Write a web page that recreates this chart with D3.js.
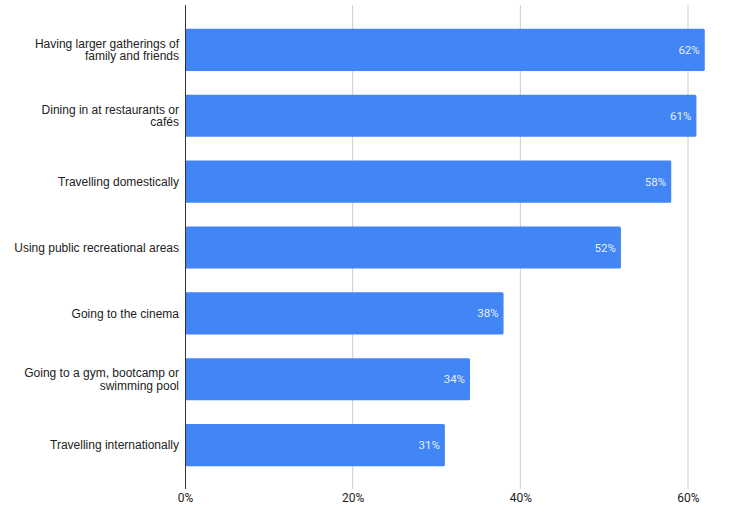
<!DOCTYPE html>
<html>
<head>
<meta charset="utf-8">
<script src="https://cdn.jsdelivr.net/npm/d3@7"></script>
<style>
  body { margin: 0; background: #fff; }
  svg { display: block; }
</style>
</head>
<body>
<div id="chart"></div>
<script>
// activities people look forward to, share of respondents
const categories = [
  ["Having larger gatherings of", "family and friends"],
  ["Dining in at restaurants or", "cafés"],
  ["Travelling domestically"],
  ["Using public recreational areas"],
  ["Going to the cinema"],
  ["Going to a gym, bootcamp or", "swimming pool"],
  ["Travelling internationally"]
]
const values = [62, 61, 58, 52, 38, 34, 31]
const tickValues = [0, 20, 40, 60]

const WIDTH = 729, HEIGHT = 522
const MARGIN = { top: 17, right: 20, bottom: 43, left: 185 }
const innerW = WIDTH - MARGIN.left - MARGIN.right
const innerH = HEIGHT - MARGIN.top - MARGIN.bottom

const data = categories.map((c, i) => ({ key: c.join(" "), lines: c, value: values[i] }))

const svg = d3.select("#chart").append("svg")
  .attr("width", WIDTH)
  .attr("height", HEIGHT)

const g = svg.append("g")
  .attr("transform", `translate(${MARGIN.left},${MARGIN.top})`)

const x = d3.scaleLinear().domain([0, 60]).range([0, 503])
const y = d3.scaleBand()
  .domain(data.map(d => d.key))
  .range([0, 461])
  .paddingInner(0.36)
  .paddingOuter(0.18)

// gridlines
g.selectAll("line.grid")
  .data(tickValues.filter(t => t > 0))
  .enter().append("line")
  .attr("class", "grid")
  .attr("x1", d => x(d)).attr("x2", d => x(d))
  .attr("y1", -12).attr("y2", innerH + 10)
  .attr("stroke", "#cccccc")
  .attr("stroke-width", 1)

// bars
g.selectAll("rect.bar")
  .data(data)
  .enter().append("rect")
  .attr("class", "bar")
  .attr("x", 0)
  .attr("y", d => y(d.key))
  .attr("width", d => x(d.value))
  .attr("height", y.bandwidth())
  .attr("rx", 1.5)
  .attr("fill", "#4285f4")

// value labels
g.selectAll("text.val")
  .data(data)
  .enter().append("text")
  .attr("class", "val")
  .attr("x", d => x(d.value) - 5)
  .attr("y", d => y(d.key) + y.bandwidth() / 2)
  .attr("dy", "0.35em")
  .attr("text-anchor", "end")
  .attr("font-family", "Roboto, sans-serif")
  .attr("font-size", "11.5px")
  .attr("fill", "#ffffff")
  .attr("fill-opacity", 0.9)
  .text(d => d.value + "%")

// baseline axis
g.append("line")
  .attr("x1", 0.5).attr("x2", 0.5)
  .attr("y1", -12).attr("y2", innerH + 10)
  .attr("stroke", "#333333")
  .attr("stroke-width", 1)

// category labels
const cat = g.selectAll("text.cat")
  .data(data)
  .enter().append("text")
  .attr("class", "cat")
  .attr("text-anchor", "end")
  .attr("font-family", "'Liberation Sans', Arial, sans-serif")
  .attr("font-size", "12px")
  .attr("fill", "#222222")
  .attr("transform", d => `translate(-6,${y(d.key) + y.bandwidth() / 2})`)

cat.selectAll("tspan")
  .data(d => d.lines.map((l, i) => ({ l, i, n: d.lines.length })))
  .enter().append("tspan")
  .attr("x", 0)
  .attr("y", d => (d.i - (d.n - 1) / 2) * 12.5)
  .attr("dy", "0.35em")
  .text(d => d.l)

// x tick labels
const xAxis = d3.axisBottom(x)
  .tickValues(tickValues)
  .tickSize(0)
  .tickPadding(0)
  .tickFormat(d => d + "%")

g.append("g")
  .attr("class", "x-axis")
  .attr("transform", `translate(0, ${innerH + 14})`)
  .call(xAxis)
  .call(a => a.select(".domain").remove())
  .selectAll("text")
  .attr("font-family", "Roboto, sans-serif")
  .attr("font-size", "12px")
  .attr("fill", "#222222")
</script>
</body>
</html>
